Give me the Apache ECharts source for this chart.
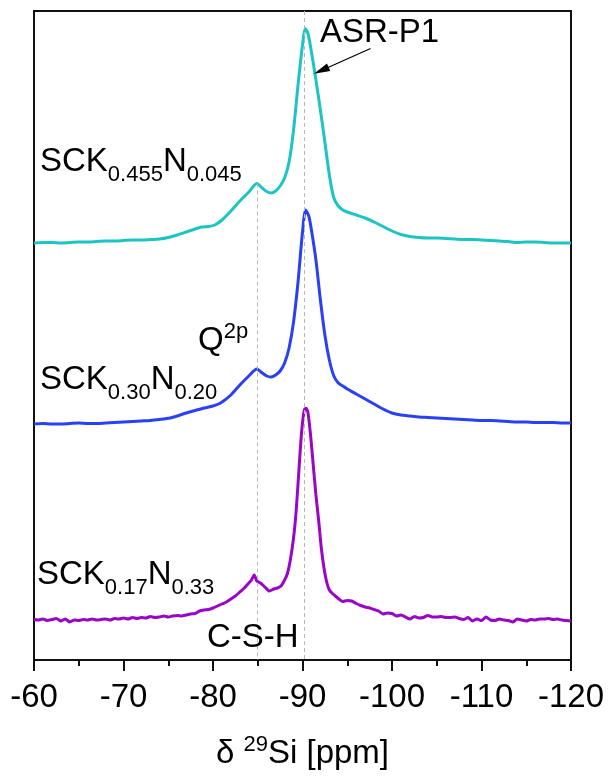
<!DOCTYPE html>
<html>
<head>
<meta charset="utf-8">
<script src="https://cdn.jsdelivr.net/npm/echarts@6/dist/echarts.min.js"></script>
<style>
  html, body { margin: 0; padding: 0; background: #fff; }
  #chart { width: 610px; height: 780px; }
</style>
</head>
<body>
<div id="chart"></div>
<script>
// 29Si MAS NMR spectra, chemical shift in ppm, intensity in arbitrary units
const shiftsTop = [-60,-61,-62,-63,-64,-65,-66,-67,-68,-69,-70,-71,-72,-73,-74,-75,-76,-77,-78,-78.7,-79.5,-80.2,-81,-82,-83,-84,-84.9,-85.5,-86,-86.5,-87,-87.5,-88,-88.5,-89,-89.5,-90,-90.3,-90.6,-91,-91.5,-92,-92.5,-93,-93.5,-94,-94.5,-95,-96,-97,-98,-99,-100,-101,-102,-103,-104,-105,-106,-107,-108,-109,-110,-111,-112,-113,-114,-115,-116,-117,-118,-119,-120];
const intensityTop = [0,0.5,0.5,0,0.5,1,1,1.5,2,2,2.5,3,3,3.5,4,5.5,8,11,14,16,16.5,18,23,32,42,51,59.5,55,51.5,50,52,57,65,81,113,158,198,214.5,210,191,163,133,101,68,45,37,33,31,28,25,21,16.5,12,8.5,6.5,5.5,5,5,4.5,4,3.5,3.5,3,2.5,2,1.5,0.5,1,1,0.5,0,0,0];

const shiftsMid = [-60,-61,-62,-63,-64,-65,-66,-67,-68,-69,-70,-71,-72,-73,-74,-75.2,-76,-77,-78,-78.9,-80,-80.8,-82,-83,-84,-84.9,-85.5,-86,-86.5,-87,-87.5,-88,-88.5,-89,-89.5,-90,-90.35,-90.7,-91,-91.5,-92,-92.5,-93,-93.5,-94,-94.5,-95,-96,-97,-98,-99,-100,-101,-102,-103,-104,-105,-106,-107,-108,-109,-110,-111,-112,-113,-114,-115,-116,-117,-118,-119,-120];
const intensityMid = [0,0.5,0,0,0.5,1,0.5,0.5,1,1.5,2,2.5,3,3.5,4.5,6,8,11,13.5,15.7,18,20.7,29,39,48,55,51,48,47,49,53,61,76,102,142,192,214,208,194,164,124,89,64,48,41,38,35,30,25,20,15,11,9,8,7,6.5,6,5.5,5,4.5,4,3.5,3.5,3,2.5,2,2,1.5,1.5,1.5,1,1];

const shiftsLow = [-60,-60.5,-61,-61.5,-62,-62.5,-63,-63.5,-64,-64.5,-65,-65.5,-66,-66.5,-67,-67.5,-68,-68.5,-69,-69.5,-70,-70.5,-71,-71.5,-72,-72.5,-73,-73.5,-74,-74.5,-75,-75.5,-76,-76.5,-77,-77.5,-78,-78.5,-79,-79.5,-80,-80.5,-81,-81.5,-82,-82.5,-83,-83.5,-84,-84.3,-84.6,-84.9,-85.3,-85.8,-86.3,-86.8,-87.2,-87.6,-88,-88.3,-88.6,-89,-89.3,-89.6,-89.9,-90.2,-90.4,-90.6,-90.9,-91.2,-91.5,-91.8,-92.1,-92.4,-92.7,-93,-93.4,-93.8,-94.2,-94.5,-95,-95.5,-96,-96.5,-97,-97.5,-98,-98.5,-99,-99.5,-100,-100.5,-101,-101.5,-102,-102.5,-103,-103.5,-104,-104.5,-105,-105.5,-106,-106.5,-107,-107.5,-108,-108.5,-109,-109.5,-110,-110.5,-111,-111.5,-112,-112.5,-113,-113.5,-114,-114.5,-115,-115.5,-116,-116.5,-117,-117.5,-118,-118.5,-119,-119.5,-120];
const intensityLow = [0.5,0,1,-0.5,0.5,1.5,-1,1,-2,0,-0.5,0.5,0,1,0,0.5,1,0,1.5,1,2,1,2.5,1.5,2.5,2,3.5,2.5,3,4,3,4,4.5,4,5,6,6.5,9,10,10.5,12,14,16,18,21,24,28,32,37,40,45,39,37,33,29,31,32,34,40,46,58,82,110,150,188,210,211.7,208,185,155,125,100,72,52,38,30,26,23,20,18.5,19.5,19,16.5,14.5,13,12,10.5,9,6,7,6.5,4,5,3,1,3.5,2,2.5,4.5,3,3,3.5,2.5,2.5,3,1.5,0.5,2.5,-1,1,-0.5,3,0,-0.5,1,0,-0.5,-2,1,0,-1,0.5,0,1,1,1.5,0.5,1,0,-0.5,-1];

// vertical stacking offsets (a.u.) and reference shifts (ppm)
const offsets = { top: 377, mid: 196, low: 0 };
const refShifts = { q2p: -84.9, asr: -90.2 };
const xTicks = { min: -120, max: -60, step: 10 };
const yRange = { min: -40, max: 609 };

const FONT = "'Liberation Sans', Arial, Helvetica, sans-serif";
const colors = { top: '#1cc4c4', mid: '#2a40f6', low: '#9a06c8' };

function pairs(xs, ys, off) {
  return xs.map((x, i) => [x, ys[i] + off]);
}

const chart = echarts.init(document.getElementById('chart'), null, { renderer: 'canvas' });

// subscript: main glyphs pinned to the top of the line, small glyphs to the bottom
const subRich = {
  m: { fontSize: 33, lineHeight: 41, verticalAlign: 'top', fontFamily: FONT, color: '#000' },
  s: { fontSize: 22, lineHeight: 22, verticalAlign: 'bottom', fontFamily: FONT, color: '#000' }
};
// superscript: main glyphs pinned to the bottom, small glyphs to the top
const supRich = {
  m: { fontSize: 33, lineHeight: 36, verticalAlign: 'bottom', fontFamily: FONT, color: '#000' },
  u: { fontSize: 22, lineHeight: 22, verticalAlign: 'top', fontFamily: FONT, color: '#000' }
};

function richText(left, top, text, rich) {
  return {
    type: 'text', left: left, top: top, silent: true, z: 10,
    style: { text: text, rich: rich, fill: '#000', font: '33px ' + FONT }
  };
}

const q2pTop = intensityTop[shiftsTop.indexOf(refShifts.q2p)] + offsets.top;

const option = {
  animation: false,
  backgroundColor: '#fff',
  grid: { left: 34, right: 39, top: 11, bottom: 120, show: true, borderColor: '#111', borderWidth: 2, backgroundColor: 'transparent' },
  xAxis: {
    type: 'value', min: xTicks.min, max: xTicks.max, interval: xTicks.step, inverse: true,
    axisLine: { show: true, onZero: false, lineStyle: { color: '#111', width: 2 } },
    axisTick: { show: true, inside: false, length: 11, lineStyle: { color: '#111', width: 2 } },
    minorTick: { show: true, splitNumber: 2, length: 6, lineStyle: { color: '#111', width: 2 } },
    splitLine: { show: false },
    axisLabel: { color: '#000', fontSize: 33, fontFamily: FONT, margin: 21 },
    name: '{m|δ }{u|29}{m|Si [ppm]}',
    nameLocation: 'middle', nameGap: 74,
    nameTextStyle: { rich: supRich }
  },
  yAxis: {
    type: 'value', min: yRange.min, max: yRange.max,
    axisLine: { show: true, lineStyle: { color: '#111', width: 2 } },
    axisTick: { show: false }, axisLabel: { show: false }, splitLine: { show: false }
  },
  series: [
    {
      name: 'guides', type: 'line', data: [], z: 1, silent: true,
      markLine: {
        silent: true, symbol: ['none', 'none'], label: { show: false },
        lineStyle: { color: '#b8b8b8', width: 1, type: [4, 3] },
        data: [
          [{ coord: [refShifts.asr, yRange.max] }, { coord: [refShifts.asr, yRange.min] }],
          [{ coord: [refShifts.q2p, q2pTop] }, { coord: [refShifts.q2p, yRange.min] }]
        ]
      }
    },
    {
      name: 'SCK0.455N0.045', type: 'line', data: pairs(shiftsTop, intensityTop, offsets.top),
      showSymbol: false, smooth: 0.25, z: 3, lineStyle: { color: colors.top, width: 3 },
      markLine: {
        silent: true, symbol: ['none', 'triangle'], symbolSize: [8, 16], label: { show: false },
        lineStyle: { color: '#000', width: 1.2, type: 'solid' },
        data: [[{ coord: [-97.6, 571.5] }, { coord: [-92.1, 549.5] }]]
      }
    },
    {
      name: 'SCK0.30N0.20', type: 'line', data: pairs(shiftsMid, intensityMid, offsets.mid),
      showSymbol: false, smooth: 0.25, z: 3, lineStyle: { color: colors.mid, width: 3 }
    },
    {
      name: 'SCK0.17N0.33', type: 'line', data: pairs(shiftsLow, intensityLow, offsets.low),
      showSymbol: false, smooth: 0.2, z: 3, lineStyle: { color: colors.low, width: 3 }
    }
  ],
  graphic: [
    richText(40, 145, '{m|SCK}{s|0.455}{m|N}{s|0.045}', subRich),
    richText(40, 363, '{m|SCK}{s|0.30}{m|N}{s|0.20}', subRich),
    richText(37, 558, '{m|SCK}{s|0.17}{m|N}{s|0.33}', subRich),
    richText(198, 321, '{m|Q}{u|2p}', supRich),
    { type: 'text', left: 207, top: 621, silent: true, z: 10, style: { text: 'C-S-H', font: '33px ' + FONT, fill: '#000' } },
    { type: 'text', left: 320, top: 16, silent: true, z: 10, style: { text: 'ASR-P1', font: '33px ' + FONT, fill: '#000' } }
  ]
};

chart.setOption(option);
</script>
</body>
</html>
